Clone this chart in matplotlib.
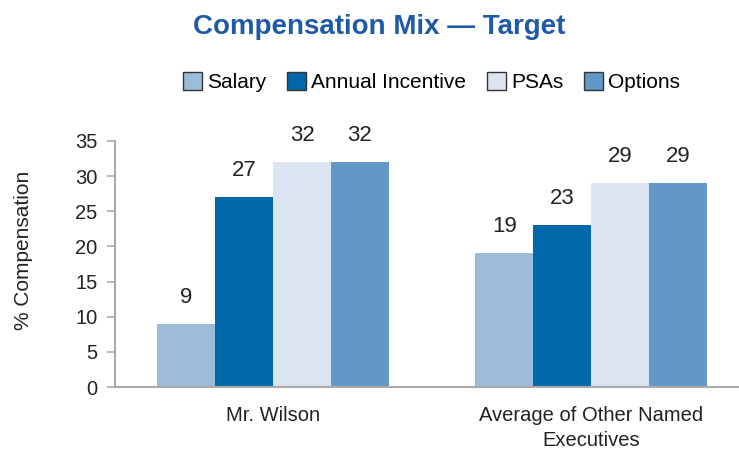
import matplotlib.pyplot as plt
import numpy as np

plt.rcParams['font.family'] = ['Liberation Sans', 'DejaVu Sans']

# data
groups = ['Mr. Wilson', 'Average of Other Named\nExecutives']
series = ['Salary', 'Annual Incentive', 'PSAs', 'Options']
values = {
    'Salary': [9, 19],
    'Annual Incentive': [27, 23],
    'PSAs': [32, 29],
    'Options': [32, 29],
}
colors = ['#9dbcda', '#0067a9', '#dce4f1', '#6198c7']

fig = plt.figure(figsize=(7.39, 4.49), dpi=100)
ax = fig.add_axes([0.1556, 0.138, 0.8444, 0.548])

x = np.arange(len(groups))
w = 0.182
for i, s in enumerate(series):
    pos = x + (i - 1.5) * w
    ax.bar(pos, values[s], w, color=colors[i], label=s, edgecolor='none')
    for xp, v in zip(pos, values[s]):
        ax.text(xp, v + 2.3, str(v), ha='center', va='bottom', fontsize=16,
                color='#222222')

ax.set_xlim(-0.497, 1.465)
ax.set_ylim(0, 35)
ax.set_yticks(range(0, 36, 5))
ax.set_xticks(x)
ax.set_xticklabels(groups, fontsize=14.5, color='#222222', linespacing=1.35)
ax.tick_params(axis='y', labelsize=14.5, colors='#222222', color='#aaaaaa',
               length=5.5, pad=7, direction='out', width=1.2)
ax.tick_params(axis='x', length=0, pad=14)
for sp in ['top', 'right']:
    ax.spines[sp].set_visible(False)
ax.spines['left'].set_color('#aaaaaa')
ax.spines['bottom'].set_color('#aaaaaa')
ax.spines['left'].set_linewidth(1.5)
ax.spines['bottom'].set_linewidth(1.5)
ax.set_ylabel('% Compensation', fontsize=15, color='#222222')
ax.yaxis.set_label_coords(-0.131, 0.557)

fig.legend(loc='center', bbox_to_anchor=(0.584, 0.817), ncol=4, frameon=False,
           fontsize=15, handlelength=0.9, handleheight=0.9, handletextpad=0.25,
           columnspacing=1.0)
for h in fig.legends[0].legend_handles:
    h.set_edgecolor('#333333')
    h.set_linewidth(1)

fig.text(0.513, 0.94, 'Compensation Mix \u2014 Target', ha='center', va='center',
         fontsize=20, fontweight='bold', color='#1f5aa6')

fig.savefig('out.png', dpi=100)
